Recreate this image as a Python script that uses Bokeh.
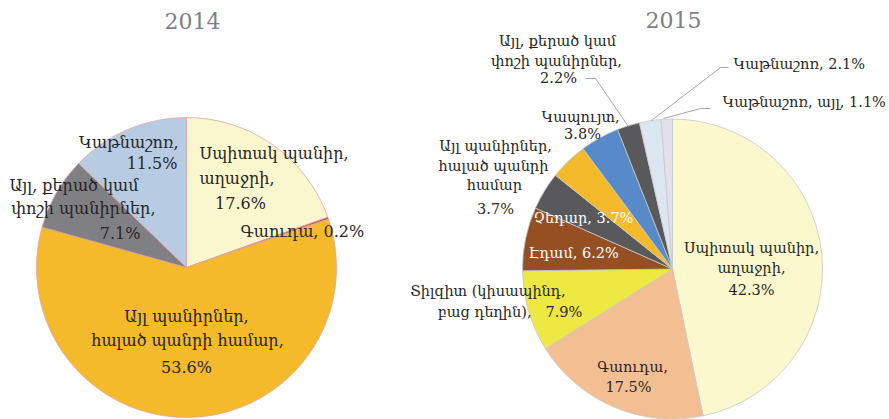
import math
from bokeh.plotting import figure
from bokeh.models import Range1d, ColumnDataSource
from bokeh.core.properties import value
from bokeh.embed import file_html
from bokeh.resources import INLINE

# ---------------- data ----------------
years = ["2014", "2015"]

cats_2014 = ["Սպիտակ պանիր, աղաջրի", "Գաուդա", "Այլ պանիրներ, հալած պանրի համար",
             "Այլ, քերած կամ փոշի պանիրներ", "Կաթնաշոռ"]
vals_2014 = [17.6, 0.2, 53.6, 7.1, 11.5]
cols_2014 = ["#FAF7CE", "#C0504D", "#F4BA2B", "#808084", "#B7CBE3"]

cats_2015 = ["Սպիտակ պանիր, աղաջրի", "Գաուդա", "Տիլզիտ (կիսապինդ, բաց դեղին)", "Էդամ",
             "Չեդար", "Այլ պանիրներ, հալած պանրի համար", "Կապույտ",
             "Այլ, քերած կամ փոշի պանիրներ", "Կաթնաշոռ", "Կաթնաշոռ, այլ"]
vals_2015 = [42.3, 17.5, 7.9, 6.2, 3.7, 3.7, 3.8, 2.2, 2.1, 1.1]
cols_2015 = ["#FAF8CC", "#F4BE93", "#EEE843", "#954F22", "#59595B", "#F4BA2B",
             "#5889C8", "#59595B", "#DCE6F1", "#E4DFEC"]

# ---------------- layout (screen pixels) ----------------
W, H = 889, 419

def sy(y):
    return H - y

p = figure(width=W, height=H, output_backend="svg", toolbar_location=None,
           x_range=Range1d(0, W), y_range=Range1d(0, H), min_border=0)
p.axis.visible = False
p.grid.visible = False
p.outline_line_color = None
p.background_fill_color = "white"
p.border_fill_color = "white"

FONT = "DejaVu Serif"

def pie(cx, cy, r, vals, cols, line_color):
    tot = sum(vals)
    starts, ends = [], []
    cum = 0.0
    for v in vals:
        starts.append(math.pi / 2 - 2 * math.pi * cum / tot)
        cum += v
        ends.append(math.pi / 2 - 2 * math.pi * cum / tot)
    src = ColumnDataSource(dict(x=[cx] * len(vals), y=[sy(cy)] * len(vals),
                                start=starts, end=ends, color=cols))
    p.wedge(x="x", y="y", radius=r, start_angle="start", end_angle="end",
            direction="clock", fill_color="color", line_color=line_color,
            line_width=0.8, source=src)

pie(186, 267, 150, vals_2014, cols_2014, "#E3A3A3")
pie(672, 268.5, 150, vals_2015, cols_2015, "#C8C8C8")

def txt(lines, size, color="#262626"):
    for (t, x, y, al) in lines:
        p.text(x=[x], y=[sy(y)], text=[t], text_font=value(FONT),
               text_font_size=size, text_color=color, text_align=al,
               text_baseline="middle")

# titles
txt([(years[0], 192, 20, "center")], "22px", "#7F7F7F")
txt([(years[1], 673, 19, "center")], "22px", "#7F7F7F")

v14 = vals_2014
lab14 = [
    ("Սպիտակ պանիր,", 199, 153, "left"),
    ("աղաջրի,", 199, 178, "left"),
    (f"{v14[0]}%", 240, 203, "center"),
    (f"Գաուդա, {v14[1]}%", 240, 231, "left"),
    ("Այլ պանիրներ,", 186, 316, "center"),
    ("հալած պանրի համար,", 187, 340, "center"),
    (f"{v14[2]}%", 186, 367, "center"),
    ("Այլ, քերած կամ", 138, 185, "right"),
    ("փոշի պանիրներ,", 155, 208, "right"),
    (f"{v14[3]}%", 140, 233, "right"),
    ("Կաթնաշոռ,", 178, 142, "right"),
    (f"{v14[4]}%", 177, 163, "right"),
]
txt(lab14, "16px")

v15 = vals_2015
lab15 = [
    ("Այլ, քերած կամ", 557, 40, "center"),
    ("փոշի պանիրներ,", 556, 60, "center"),
    (f"{v15[7]}%", 558, 77, "center"),
    (f"Կաթնաշոռ, {v15[8]}%", 733, 63, "left"),
    (f"Կաթնաշոռ, այլ, {v15[9]}%", 722, 101, "left"),
    ("Կապույտ,", 580, 116, "center"),
    (f"{v15[6]}%", 582, 133, "center"),
    ("Այլ պանիրներ,", 495, 145, "center"),
    ("հալած պանրի", 493, 165, "center"),
    ("համար", 494, 184, "center"),
    (f"{v15[5]}%", 495, 208, "center"),
    ("Տիլզիտ (կիսապինդ,", 565, 290, "right"),
    ("բաց դեղին),", 531, 311, "right"),
    (f"{v15[2]}%", 545, 311, "left"),
    ("Սպիտակ պանիր,", 751, 247, "center"),
    ("աղաջրի,", 751, 267, "center"),
    (f"{v15[0]}%", 751, 289, "center"),
    ("Գաուդա,", 632, 366, "center"),
    (f"{v15[1]}%", 628, 386, "center"),
]
txt(lab15, "14.5px")
txt([(f"Չեդար, {v15[4]}%", 533, 217, "left"),
     (f"Էդամ, {v15[3]}%", 528, 252, "left")], "14.5px", "white")

# leader lines
for xs, ys in [([585, 595, 628], [78, 78, 126]),
               ([728, 720, 651], [67, 67, 120]),
               ([710, 700, 663], [108, 108, 118])]:
    p.line(xs, [sy(v) for v in ys], line_color="#A6A6A6", line_width=1)

open("out.html", "w").write(file_html(p, INLINE))
